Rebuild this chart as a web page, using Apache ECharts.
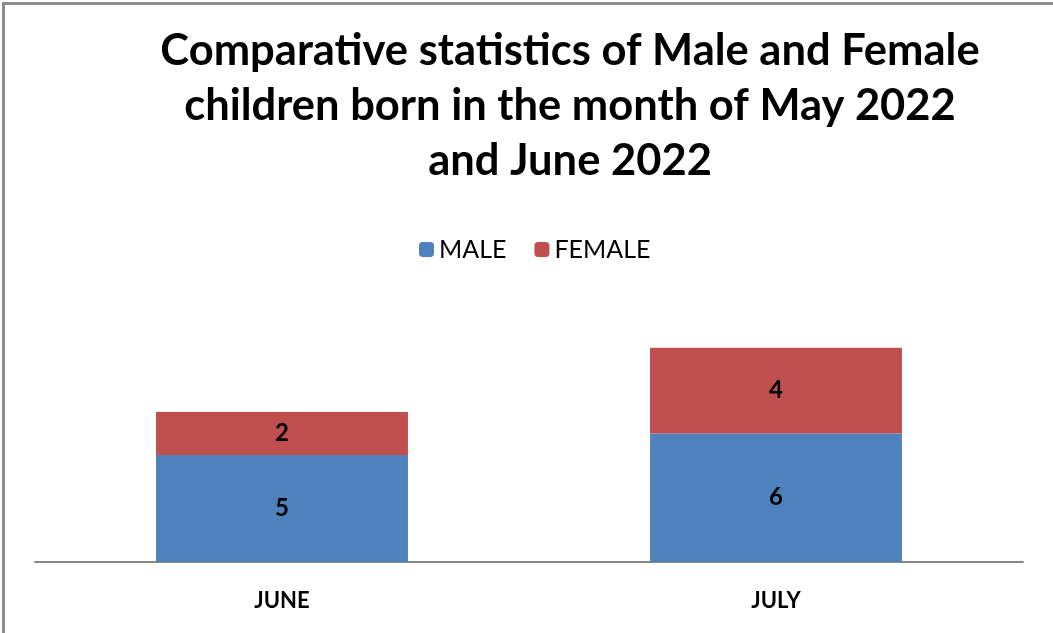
<!DOCTYPE html>
<html>
<head>
<meta charset="utf-8">
<script src="https://cdn.jsdelivr.net/npm/echarts@6/dist/echarts.min.js"></script>
<style>
  html, body { margin: 0; padding: 0; background: #fff; }
  #chart { width: 1053px; height: 633px; }
</style>
</head>
<body>
<div id="chart"></div>
<script>
const months = ['JUNE', 'JULY']
const male = [5, 6]
const female = [2, 4]

const chart = echarts.init(document.getElementById('chart'))

const labelStyle = {
  show: true,
  position: 'inside',
  color: '#000',
  fontFamily: 'Lato',
  fontWeight: 'bold',
  fontSize: 24
}

chart.setOption({
  animation: false,
  backgroundColor: '#fff',
  graphic: [{
    type: 'rect',
    shape: { x: 3.5, y: 3.5, width: 1060, height: 640 },
    style: { fill: null, stroke: '#8c8c8c', lineWidth: 3 }
  }],
  title: {
    text: 'Comparative statistics of Male and Female\nchildren born in the month of May 2022\nand June 2022',
    left: 565,
    textAlign: 'center',
    top: 18,
    textStyle: {
      fontFamily: 'Lato',
      fontWeight: 'bold',
      fontSize: 43.5,
      lineHeight: 55,
      color: '#000'
    }
  },
  legend: {
    top: 232,
    left: 414,
    itemWidth: 15,
    itemHeight: 15,
    itemGap: 28,
    textStyle: { fontFamily: 'Lato', fontSize: 25, color: '#000' },
    data: ['MALE', 'FEMALE']
  },
  grid: { left: 35, right: 30, top: 305, bottom: 71 },
  xAxis: {
    type: 'category',
    data: months,
    axisLine: { lineStyle: { color: '#888', width: 2 } },
    axisTick: { show: false },
    axisLabel: {
      margin: 28,
      color: '#000',
      fontFamily: 'Lato',
      fontWeight: 'bold',
      fontSize: 22
    }
  },
  yAxis: {
    type: 'value',
    min: 0,
    max: 12,
    show: false,
    splitLine: { show: false }
  },
  series: [
    {
      name: 'MALE',
      type: 'bar',
      stack: 'total',
      data: male,
      barWidth: '51%',
      itemStyle: { color: '#4F81BD' },
      label: labelStyle
    },
    {
      name: 'FEMALE',
      type: 'bar',
      stack: 'total',
      data: female,
      barWidth: '51%',
      itemStyle: { color: '#C0504D' },
      label: labelStyle
    }
  ]
})
</script>
</body>
</html>
